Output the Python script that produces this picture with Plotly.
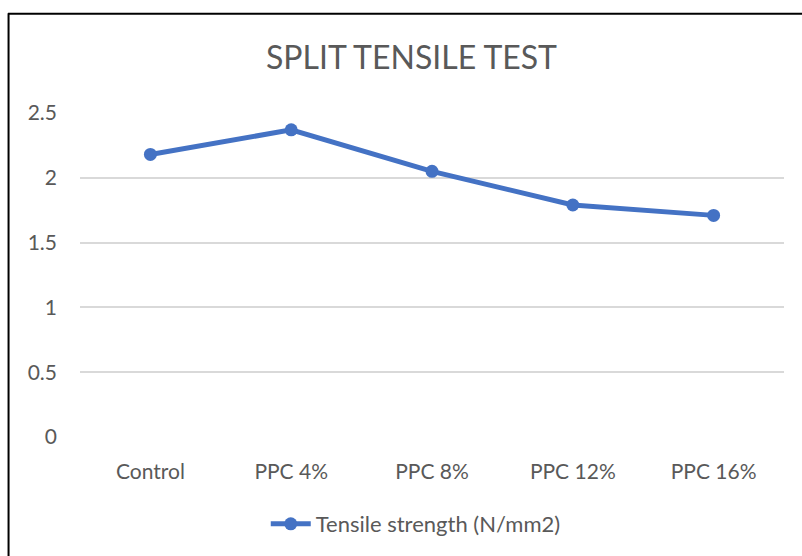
import plotly.graph_objects as go

categories = ["Control", "PPC 4%", "PPC 8%", "PPC 12%", "PPC 16%"]
tensile_strength = [2.18, 2.37, 2.05, 1.79, 1.71]
series_name = "Tensile strength (N/mm2)"
y_ticks = [0, 0.5, 1, 1.5, 2, 2.5]
y_tick_labels = ["0", "0.5", "1", "1.5", "2", "2.5"]

W, H = 802, 556
L, R, T, B = 80, 17.5, 113, 118
pw, ph = W - L - R, H - T - B

FONT = "Lato, Carlito, Calibri, sans-serif"
BLUE = "#4472C4"
GREY = "#595959"

fig = go.Figure()
fig.add_trace(go.Scatter(
    x=categories, y=tensile_strength, mode="lines+markers", name=series_name,
    line=dict(color=BLUE, width=5),
    marker=dict(color=BLUE, size=13),
))

def px_x(px):
    return (px - L) / pw

def px_y(py):
    return (H - B - py) / ph

fig.add_shape(type="line", xref="paper", yref="paper",
              x0=px_x(8), x1=px_x(810), y0=px_y(13.5), y1=px_y(13.5),
              line=dict(color="black", width=2))
fig.add_shape(type="line", xref="paper", yref="paper",
              x0=px_x(8.5), x1=px_x(8.5), y0=px_y(13), y1=px_y(560),
              line=dict(color="black", width=2))

fig.update_layout(
    width=W, height=H,
    margin=dict(l=L, r=R, t=T, b=B),
    paper_bgcolor="white", plot_bgcolor="white",
    font=dict(family=FONT, color=GREY, size=21),
    title=dict(text="SPLIT TENSILE TEST", x=411.5 / W, xanchor="center",
               y=1 - 58 / H, yanchor="middle",
               font=dict(family=FONT, size=32, color=GREY)),
    showlegend=True,
    legend=dict(orientation="h", x=(416 - L) / pw, xanchor="center",
                y=px_y(524), yanchor="middle", font=dict(size=22, color=GREY),
                itemwidth=40),
    xaxis=dict(type="category", showgrid=False, showline=False, ticks="",
               tickfont=dict(size=21, color=GREY), ticklabelstandoff=20,
               range=[-0.5, 4.5]),
    yaxis=dict(range=[0, 2.5], tickvals=y_ticks, ticktext=y_tick_labels,
               showgrid=True, gridcolor="#D9D9D9", gridwidth=1.5,
               zeroline=False, showline=False, ticks="",
               tickfont=dict(size=21, color=GREY), ticklabelstandoff=22),
)

fig.write_html("out.html", config={"displayModeBar": False})

with open("out.html", "r", encoding="utf-8") as f:
    html = f.read()
html = html.replace("<head>", "<head><style>html,body{margin:0;padding:0;}</style>", 1)
with open("out.html", "w", encoding="utf-8") as f:
    f.write(html)
